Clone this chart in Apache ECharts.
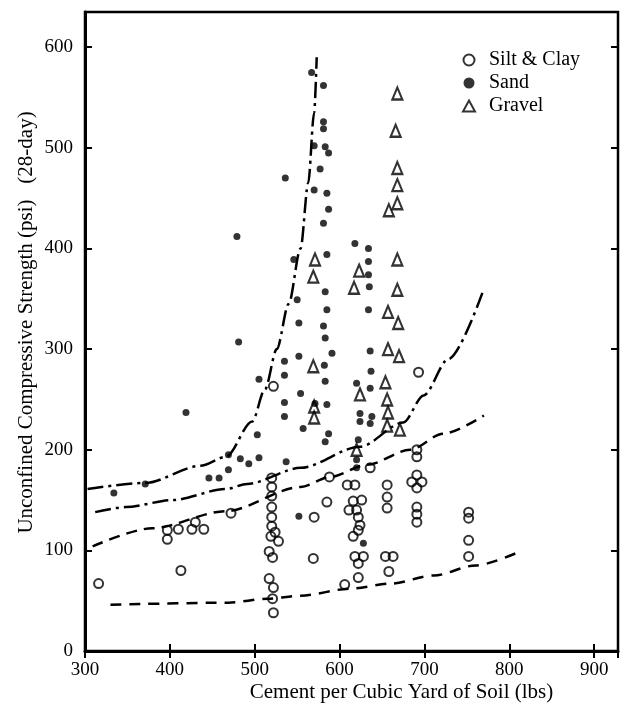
<!DOCTYPE html>
<html><head><meta charset="utf-8">
<script src="https://cdn.jsdelivr.net/npm/echarts@6/dist/echarts.min.js"></script>
<style>html,body{margin:0;padding:0;background:#fff}#c{width:621px;height:712px}</style>
</head><body><div id="c"></div>
<script>
const xTicks = [300,400,500,600,700,800,900];
const yTicks = [0,100,200,300,400,500,600];

const siltClay = [
[316,67],[397,120],[410,121],[397,111],[413,80],[430,128],[426,121],[440,121],[472,137],[522,263],
[520,172],[520,163],[520,154],[520,143],[520,133],[520,124],[519,114],[524,118],[528,109],[517,99],[521,93],[517,72],[522,63],[521,52],[522,38],
[585,148],[588,173],[570,133],[569,92],
[609,165],[618,165],[616,149],[626,150],[611,140],[620,140],[622,133],[624,125],[622,120],[616,114],[618,94],[628,94],[622,87],[622,73],[606,66],
[636,182],[656,165],[656,153],[656,142],[654,94],[663,94],[658,79],
[691,200],[691,193],[691,175],[685,168],[697,168],[691,162],[691,143],[691,136],[691,128],[693,277],
[752,138],[752,132],[752,110],[752,94]
];
const sand = [
[334,157],[371,166],[419,237],[446,172],[458,172],[469,195],[469,180],[483,191],[493,186],[505,192],[503,215],[481,307],[479,412],[505,270],[537,188],[552,134],
[567,575],[581,562],[581,526],[581,519],[570,502],[583,501],[587,495],[577,479],[536,470],[570,458],[585,455],[587,439],[581,425],
[546,389],[585,394],[550,349],[583,357],[585,339],[552,326],[581,323],[583,311],[591,296],[552,293],[535,288],[582,284],[535,274],[583,268],[554,256],[535,247],[585,245],[571,246],[535,233],[557,221],[587,216],[583,208],
[618,405],[634,400],[634,387],[634,374],[635,362],[634,339],[636,298],[637,278],[620,266],[636,261],[624,236],[638,233],[636,226],[624,228],[622,210],[620,190],[620,182],[628,107]
];
const gravel = [
[668,554],[666,517],[668,480],[668,463],[668,445],[658,438],
[571,389],[569,372],[623,378],[617,361],[668,389],[668,359],[657,337],[669,326],[657,300],[670,293],
[569,283],[654,267],[624,255],[656,250],[570,243],[570,232],[657,237],[656,224],[671,220],[620,200]
];
const curveSand = [[303,161],[371,167],[436,184],[466,193],[497,228],[512,260],[526,300],[540,345],[554,400],[563,465],[570,535],[573,590]];
const curveGravel = [[312,138],[348,143],[403,150],[466,161],[491,166],[554,182],[624,203],[675,227],[699,254],[728,290],[770,360]];
const curveUpperDashed = [[309,104],[379,122],[466,139],[554,163],[589,173],[632,185],[683,200],[722,216],[770,234]];
const curveLowerDashed = [[330,46],[469,48],[515,52],[554,55],[613,62],[660,67],[711,75],[760,85],[810,98]];

const FONT = 'Liberation Serif';
const chart = echarts.init(document.getElementById('c'), null, {renderer:'canvas'});
const tickStyle = {show:true, inside:true, length:7, lineStyle:{color:'#000', width:2}};
const curve = (data, dash) => ({type:'line', data, smooth:0.3, smoothMonotone:'x', symbol:'none', silent:true, z:1,
  lineStyle:{color:'#000', width:2.5, type:dash}, xAxisIndex:0, yAxisIndex:0});
chart.setOption({
  backgroundColor:'#fff',
  animation:false,
  grid:{left:85, right:3, top:12, bottom:61, show:true, borderColor:'#000', borderWidth:2.5,
        containLabel:false, outerBoundsMode:'none'},
  legend:{orient:'vertical', left:457, top:45, itemWidth:12, itemHeight:11, itemGap:3,
    data:['Silt & Clay','Sand','Gravel'],
    textStyle:{fontFamily:FONT, fontSize:20, color:'#000', padding:[0,0,0,9]}},
  xAxis:[
    {type:'value', min:300, max:928, interval:100, position:'bottom',
     axisLine:{show:true, lineStyle:{color:'#000', width:3}},
     axisTick:tickStyle,
     axisLabel:{margin:10, color:'#000', fontFamily:FONT, fontSize:19, showMaxLabel:false,
       formatter:v => xTicks.includes(v) ? String(v) : ''},
     splitLine:{show:false},
     name:'Cement per Cubic Yard of Soil (lbs)', nameLocation:'middle', nameGap:31, nameMoveOverlap:false,
     nameTextStyle:{fontFamily:FONT, fontSize:21, color:'#000', padding:[0,0,0,100]}},
    {type:'value', min:300, max:928, interval:100, position:'top',
     axisLine:{show:false}, axisTick:tickStyle, axisLabel:{show:false}, splitLine:{show:false}}
  ],
  yAxis:[
    {type:'value', min:0, max:635, interval:100, position:'left',
     axisLine:{show:true, lineStyle:{color:'#000', width:3}},
     axisTick:tickStyle,
     axisLabel:{margin:12, color:'#000', fontFamily:FONT, fontSize:19, showMaxLabel:false,
       formatter:v => yTicks.includes(v) ? String(v) : ''},
     splitLine:{show:false},
     name:'Unconfined Compressive Strength (psi)   (28-day)', nameLocation:'middle', nameGap:48, nameMoveOverlap:false,
     nameTextStyle:{fontFamily:FONT, fontSize:21, color:'#000', padding:[0,0,0,18]}},
    {type:'value', min:0, max:635, interval:100, position:'right',
     axisLine:{show:false}, axisTick:tickStyle, axisLabel:{show:false}, splitLine:{show:false}}
  ],
  series:[
    curve(curveSand, [16,5,3,5]),
    curve(curveGravel, [16,5,3,5]),
    curve(curveUpperDashed, [11,7]),
    curve(curveLowerDashed, [11,8]),
    {name:'Silt & Clay', type:'scatter', data:siltClay, symbol:'circle', symbolSize:9, z:3,
     itemStyle:{color:'rgba(255,255,255,0)', borderColor:'#000', borderWidth:2}},
    {name:'Sand', type:'scatter', data:sand, symbol:'circle', symbolSize:7, z:3,
     itemStyle:{color:'#000', borderWidth:0}},
    {name:'Gravel', type:'scatter', data:gravel, symbol:'triangle', symbolSize:[10,12], z:3,
     itemStyle:{color:'rgba(255,255,255,0)', borderColor:'#000', borderWidth:2.2}}
  ]
});
</script></body></html>
